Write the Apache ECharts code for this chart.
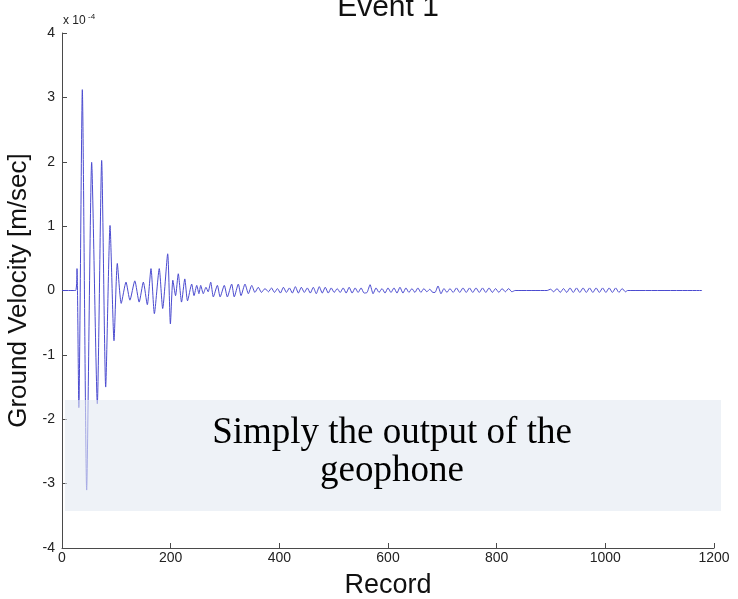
<!DOCTYPE html>
<html>
<head>
<meta charset="utf-8">
<script src="https://cdn.jsdelivr.net/npm/echarts@6/dist/echarts.min.js"></script>
<style>html,body{margin:0;padding:0;background:#fff}#c{width:738px;height:599px}</style>
</head>
<body>
<div id="c"></div>
<script>
// Record index (x) and ground velocity in units of 1e-4 m/sec (y): peaks/troughs
const records = [
  0, 25, 27.6, 31, 37.4, 45.4, 54.6, 65, 73, 80.4, 88.4, 95.7, 101.8, 109, 117.8, 125, 134, 142, 149.7, 157,
  163.8, 170, 179, 185.3, 194.5, 199.5, 204, 209, 214, 220, 226, 231, 238.7, 243, 248, 252, 255.3, 260, 265, 269,
  273.7, 278.5, 286, 291, 298.7, 304.3, 312.3, 317, 324.5, 329.5, 336.8, 343, 349.2, 355, 361.3, 367, 373.6, 380,
  385.5, 391, 396.5, 402, 407.5, 413, 418.5, 424, 429.5, 435, 440.5, 446, 451.5, 457, 462.5, 468, 473.5, 479,
  484.5, 490, 495.5, 501, 506.5, 512, 517.5, 523, 528.5, 534, 539.5, 545, 550.5, 556, 561.5, 567, 572.5, 578,
  583.5, 589, 594.5, 600, 605.5, 611, 616.5, 622, 627.5, 633, 638.5, 644, 649.5, 655, 660.5, 666, 671.5, 677,
  682.5, 686.5, 692, 697.5, 703, 708.5, 714, 720, 726, 732, 738, 744, 750, 756, 762, 768, 774, 780, 786, 792,
  798, 804, 810, 816, 822, 828, 834, 893, 899, 905, 911, 917, 923, 929, 935, 941, 947, 953, 959, 965, 971, 977,
  983, 989, 995, 1001, 1007, 1013, 1019, 1025, 1031, 1037, 1041, 1178
];
const velocity = [
  0, 0, 0.34, -1.82, 3.12, -3.1, 1.99, -1.76, 2.02, -1.5, 1.01, -0.78, 0.42, -0.2, 0.13, -0.15, 0.15, -0.18, 0.13, -0.22,
  0.34, -0.36, 0.34, -0.28, 0.57, -0.52, 0.16, -0.08, 0.26, -0.18, 0.18, -0.16, 0.1, -0.08, 0.08, -0.05, 0.08, -0.05, 0.05, -0.02,
  0.13, -0.1, 0.08, -0.1, 0.08, -0.1, 0.1, -0.1, 0.1, -0.08, 0.1, -0.05, 0.08, -0.03, 0.05, -0.03, 0.03, -0.02,
  0.04, -0.03, 0.03, -0.04, 0.05, -0.03, 0.04, -0.04, 0.06, -0.04, 0.05, -0.03, 0.04, -0.04, 0.05, -0.05, 0.06, -0.04,
  0.05, -0.04, 0.04, -0.03, 0.03, -0.03, 0.04, -0.04, 0.05, -0.04, 0.04, -0.03, 0.04, -0.04, -0.03, 0.09, -0.05, 0.04,
  -0.03, 0.03, -0.04, 0.04, -0.03, 0.04, -0.04, 0.05, -0.04, 0.04, -0.03, 0.03, -0.03, 0.04, -0.03, 0.03, -0.02, 0.02,
  -0.03, -0.03, 0.07, -0.05, 0.03, -0.03, 0.03, -0.03, 0.04, -0.03, 0.04, -0.03, 0.04, -0.03, 0.04, -0.03, 0.04, -0.03, 0.04, -0.03,
  0.03, -0.03, 0.03, -0.02, 0.03, -0.02, 0, 0, 0.02, -0.02, 0.03, -0.03, 0.03, -0.03, 0.04, -0.03, 0.04, -0.03, 0.04, -0.03, 0.04, -0.03,
  0.04, -0.03, 0.04, -0.03, 0.04, -0.03, 0.04, -0.03, 0.03, -0.02, 0, 0
];
const titleText = 'Event 1';
const xName = 'Record';
const yName = 'Ground Velocity [m/sec]';
const noteText = 'Simply the output of the\ngeophone';

const chart = echarts.init(document.getElementById('c'));
const axisColor = '#4a4a4a';
const sans = 'Liberation Sans, Arial, sans-serif';
chart.setOption({
  animation: false,
  backgroundColor: '#ffffff',
  grid: { left: 62, right: 24, top: 33, bottom: 51, containLabel: false, outerBoundsMode: 'none' },
  xAxis: {
    type: 'value', min: 0, max: 1200, interval: 200,
    name: xName, nameLocation: 'middle', nameGap: 24,
    nameTextStyle: { fontFamily: sans, fontSize: 27, color: '#111' },
    axisLine: { show: true, onZero: false, lineStyle: { color: axisColor, width: 1 } },
    axisTick: { show: true, inside: true, length: 5, lineStyle: { color: axisColor } },
    axisLabel: { fontFamily: sans, fontSize: 14, color: '#222', margin: 3, formatter: v => String(v) },
    splitLine: { show: false }
  },
  yAxis: {
    type: 'value', min: -4, max: 4, interval: 1,
    name: yName, nameLocation: 'middle', nameGap: 24,
    nameTextStyle: { fontFamily: sans, fontSize: 26, color: '#111' },
    axisLine: { show: true, onZero: false, lineStyle: { color: axisColor, width: 1 } },
    axisTick: { show: true, inside: true, length: 5, lineStyle: { color: axisColor } },
    axisLabel: { fontFamily: sans, fontSize: 14, color: '#222', margin: 7, formatter: v => String(v) },
    splitLine: { show: false }
  },
  series: [{
    type: 'line',
    data: records.map((r, i) => [r, velocity[i]]),
    showSymbol: false,
    smooth: 0.2,
    lineStyle: { color: '#4b4bd0', width: 1 },
    z: 2
  }],
  graphic: [
    { type: 'text', z: 10, style: { text: titleText, x: 388, y: 23, textAlign: 'center', textVerticalAlign: 'bottom', font: '30px ' + sans, fill: '#111' } },
    { type: 'text', z: 10, style: { text: 'x 10', x: 63, y: 27, textVerticalAlign: 'bottom', font: '12px ' + sans, fill: '#222' } },
    { type: 'text', z: 10, style: { text: '-4', x: 88, y: 21, textVerticalAlign: 'bottom', font: '8px ' + sans, fill: '#222' } },
    { type: 'rect', z: 50, shape: { x: 65, y: 400, width: 656, height: 111 }, style: { fill: 'rgba(226,233,242,0.6)' } },
    { type: 'text', z: 60, style: { text: noteText, x: 392, y: 452, textAlign: 'center', textVerticalAlign: 'middle', font: '37px "Liberation Serif", "Times New Roman", serif', lineHeight: 38, fill: '#000' } }
  ]
});
</script>
</body>
</html>
